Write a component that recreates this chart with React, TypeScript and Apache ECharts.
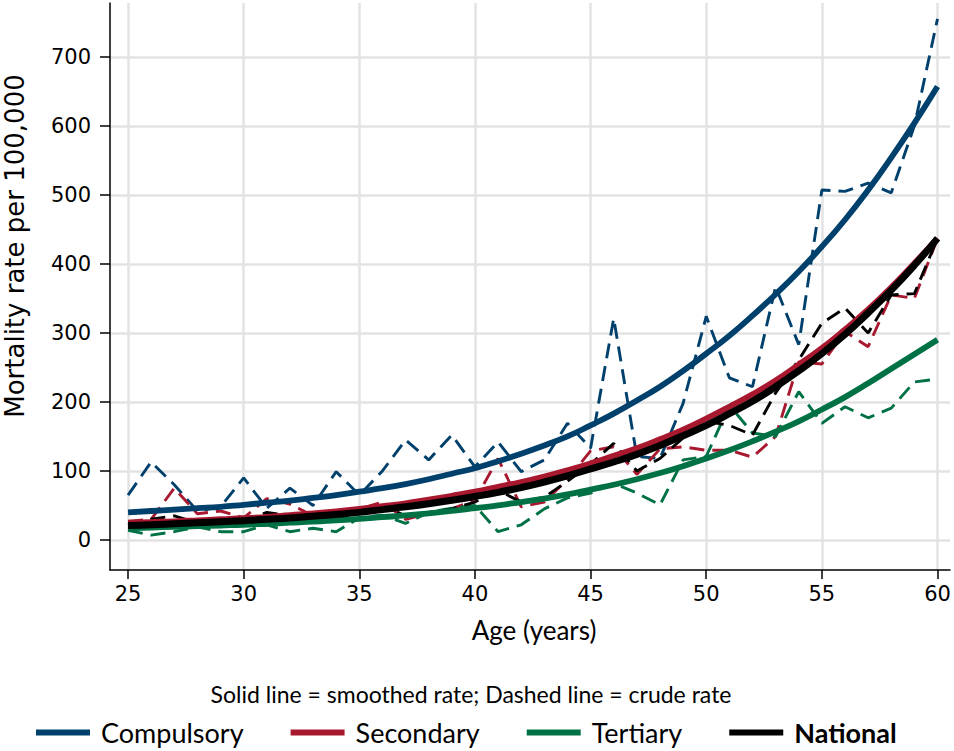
import React, { useEffect, useRef } from "react";
import * as echarts from "echarts";

const ages = [25, 26, 27, 28, 29, 30, 31, 32, 33, 34, 35, 36, 37, 38, 39, 40, 41, 42, 43, 44, 45, 46, 47, 48, 49, 50, 51, 52, 53, 54, 55, 56, 57, 58, 59, 60];

const xTicks = [25, 30, 35, 40, 45, 50, 55, 60];
const yTicks = [0, 100, 200, 300, 400, 500, 600, 700];

// crude rates (dashed)
const compulsoryCrude = [65, 113, 80, 42, 48, 90, 46, 75, 50, 99, 65, 100, 145, 116, 152, 106, 142, 99, 116, 169, 133, 321, 121, 118, 198, 324, 235, 222, 367, 283, 507, 505, 517, 503, 600, 755];
const secondaryCrude = [27, 30, 75, 38, 42, 32, 60, 52, 35, 42, 45, 55, 30, 38, 45, 58, 118, 48, 55, 88, 129, 135, 95, 132, 135, 130, 130, 120, 150, 258, 255, 302, 280, 355, 350, 437];
const tertiaryCrude = [14, 7, 12, 19, 12, 12, 22, 12, 17, 12, 32, 36, 24, 40, 46, 50, 12, 22, 45, 61, 68, 82, 68, 51, 116, 121, 195, 155, 150, 215, 169, 193, 177, 191, 229, 233];
const nationalCrude = [22, 30, 35, 25, 28, 28, 40, 35, 30, 35, 45, 50, 35, 40, 45, 55, 72, 55, 62, 85, 110, 140, 100, 118, 148, 172, 166, 152, 213, 261, 314, 336, 300, 355, 357, 437];

// smoothed rates (solid)
const compulsorySmooth = [40, 42, 44, 46, 48, 51, 54, 57, 61, 65, 70, 75, 81, 88, 96, 104, 114, 125, 137, 150, 166, 183, 202, 222, 245, 270, 296, 325, 356, 389, 425, 464, 507, 554, 604, 657];
const secondarySmooth = [25, 26, 27, 28.5, 30, 31.5, 33.5, 36, 38.5, 41.5, 45, 49, 53, 58.5, 64, 70, 77, 84, 92, 101, 111, 122, 133, 146, 160, 176, 193, 211, 231, 254, 278, 305, 334, 366, 401, 437];
const tertiarySmooth = [17, 18, 19, 20, 21, 22, 23.5, 25, 26.5, 28.5, 30.5, 33, 35.5, 38.5, 42, 46, 50, 55, 60, 66, 73, 80, 88, 97, 107, 118, 130, 143, 157, 172, 189, 207, 227, 248, 269, 290];
const nationalSmooth = [21, 22, 23.5, 25, 26.5, 28, 30, 32, 34.5, 37, 40, 44, 48, 52.5, 57.5, 63, 69, 76, 84, 93, 103, 113, 124, 137, 151, 166, 183, 201, 222, 245, 270, 298, 329, 362, 398, 437];

const groups = ["Compulsory", "Secondary", "Tertiary", "National"];
const colors = ["#00406C", "#A8182F", "#007144", "#000000"];
const crude = [compulsoryCrude, secondaryCrude, tertiaryCrude, nationalCrude];
const smooth = [compulsorySmooth, secondarySmooth, tertiarySmooth, nationalSmooth];

const pair = (arr: number[]) => ages.map((a, i) => [a, arr[i]]);

export default function App() {
  const ref = useRef<HTMLDivElement>(null);
  useEffect(() => {
    const chart = echarts.init(ref.current!, null, { renderer: "svg" });
    const dashed = groups.map((g, i) => ({
      name: g + " crude",
      type: "line",
      data: pair(crude[i]),
      showSymbol: false,
      silent: true,
      z: 2,
      color: colors[i],
      lineStyle: { color: colors[i], width: 2.9, type: [15, 8] },
    }));
    const solid = groups.map((g, i) => ({
      name: g,
      type: "line",
      data: pair(smooth[i]),
      showSymbol: false,
      smooth: true,
      silent: true,
      z: 3,
      color: colors[i],
      lineStyle: { color: colors[i], width: i === 3 ? 7 : 5.8 },
    }));
    chart.setOption({
      animation: false,
      backgroundColor: "#ffffff",
      grid: { left: 110, right: 4, top: 3, bottom: 181, containLabel: false },
      xAxis: {
        type: "value",
        min: 24.22,
        max: 60.54,
        axisLine: { onZero: false, lineStyle: { color: "#000", width: 1.5 } },
        axisTick: { customValues: xTicks, length: 9, lineStyle: { color: "#000", width: 1.5 } },
        axisLabel: { customValues: xTicks, fontFamily: "DejaVu Sans", fontSize: 21, color: "#000", margin: 13 },
        splitLine: { show: true, lineStyle: { color: "#e3e3e3", width: 2.5 } },
      },
      yAxis: {
        type: "value",
        min: -43.5,
        max: 778,
        axisLine: { show: true, onZero: false, lineStyle: { color: "#000", width: 1.5 } },
        axisTick: { show: true, customValues: yTicks, length: 10, lineStyle: { color: "#000", width: 1.5 } },
        axisLabel: { customValues: yTicks, fontFamily: "DejaVu Sans", fontSize: 21, color: "#000", margin: 19 },
        splitLine: { show: true, lineStyle: { color: "#e3e3e3", width: 2.5 } },
      },
      legend: {
        data: [
          { name: "Compulsory" },
          { name: "Secondary" },
          { name: "Tertiary" },
          { name: "National", textStyle: { fontWeight: "bold" } },
        ],
        left: 31,
        top: 714,
        icon: "rect",
        itemWidth: 54,
        itemHeight: 6,
        itemGap: 47,
        textStyle: { fontFamily: "Lato", fontSize: 27, color: "#000", padding: [0, 0, 0, 6] },
      },
      graphic: [
        {
          type: "text",
          x: 534,
          y: 630,
          style: { text: "Age (years)", fontFamily: "Lato", fontSize: 26, fill: "#000", align: "center", verticalAlign: "middle" },
        },
        {
          type: "text",
          x: 15,
          y: 246,
          rotation: Math.PI / 2,
          style: { text: "Mortality rate per 100,000", fontFamily: "DejaVu Sans", fontSize: 26, fill: "#000", align: "center", verticalAlign: "middle" },
        },
        {
          type: "text",
          x: 471,
          y: 694,
          style: { text: "Solid line = smoothed rate; Dashed line = crude rate", fontFamily: "Lato", fontSize: 23, fill: "#000", align: "center", verticalAlign: "middle" },
        },
      ],
      series: [...dashed, ...solid],
    });
    return () => chart.dispose();
  }, []);
  return (
    <div
      ref={ref}
      style={{ position: "absolute", left: 0, top: 0, width: 954, height: 751, background: "#fff" }}
    />
  );
}
